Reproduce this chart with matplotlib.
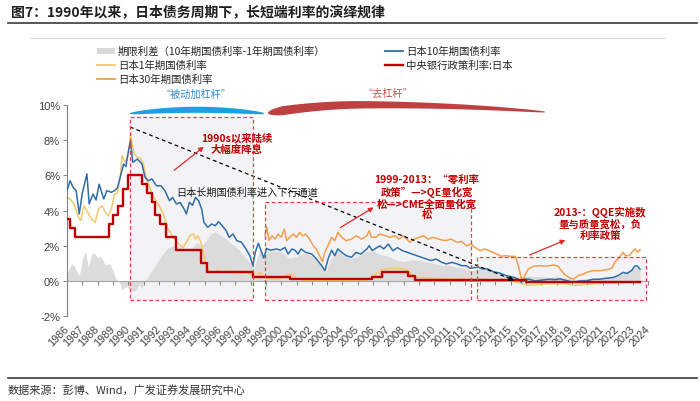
import numpy as np
import matplotlib
matplotlib.use("Agg")
import matplotlib.pyplot as plt
from matplotlib.patches import Rectangle, Polygon
from matplotlib.lines import Line2D

plt.rcParams['font.family'] = ['Noto Sans CJK SC', 'DejaVu Sans']

# ---------------- data ----------------
ten_years = [1986.0, 1986.2, 1986.4, 1986.6, 1986.8, 1987.0, 1987.3, 1987.45, 1987.7, 1987.9,
             1988.1, 1988.4, 1988.6, 1988.9, 1989.1, 1989.3, 1989.5, 1989.7, 1989.85, 1990.0,
             1990.15, 1990.3, 1990.6, 1990.9, 1991.1, 1991.3, 1991.55, 1991.85, 1992.15, 1992.4,
             1992.7, 1992.9, 1993.15, 1993.4, 1993.65, 1993.8, 1994.0, 1994.2, 1994.4, 1994.6,
             1994.8, 1994.95, 1995.2, 1995.45, 1995.7, 1995.9, 1996.15, 1996.4, 1996.6, 1996.85,
             1997.1, 1997.4, 1997.7, 1997.95, 1998.15, 1998.3, 1998.5, 1998.7, 1998.85, 1999.05,
             1999.3, 1999.7, 1999.95, 2000.25, 2000.45, 2000.7, 2000.9, 2001.1, 2001.3, 2001.6,
             2002.0, 2002.3, 2002.65, 2002.85, 2003.1, 2003.3, 2003.5, 2003.7, 2003.95, 2004.25,
             2004.6, 2004.9, 2005.2, 2005.6, 2005.75, 2005.95, 2006.45, 2006.7, 2007.0, 2007.3,
             2007.6, 2007.9, 2008.25, 2008.55, 2008.85, 2009.15, 2009.5, 2009.8, 2010.1, 2010.5,
             2010.8, 2011.15, 2011.5, 2011.8, 2012.1, 2012.35, 2012.6, 2012.9, 2013.1, 2013.5,
             2013.85, 2014.3, 2014.7, 2015.2, 2015.5, 2015.7, 2015.9, 2016.2, 2016.6, 2017.1,
             2017.5, 2017.9, 2018.2, 2018.5, 2019.1, 2019.5, 2019.9, 2020.4, 2020.8, 2021.2,
             2021.7, 2022.0, 2022.35, 2022.6, 2022.9, 2023.1, 2023.25, 2023.45]
ten_vals = [5.13, 5.70, 5.32, 5.13, 3.81, 5.00, 6.08, 4.38, 4.94, 4.60,
            5.50, 4.66, 5.13, 5.04, 5.13, 5.30, 5.98, 6.65, 6.50, 7.31,
            7.95, 6.74, 6.93, 6.65, 5.89, 5.70, 5.80, 5.41, 5.41, 5.13,
            4.56, 4.75, 4.38, 4.46, 4.09, 3.81, 4.47, 4.30, 4.75, 4.56,
            4.09, 3.33, 3.05, 3.24, 3.14, 3.37, 3.14, 2.86, 2.48, 2.67,
            2.29, 2.20, 1.82, 1.44, 0.87, 1.60, 2.15, 1.70, 1.30, 1.85,
            1.75, 1.82, 1.75, 1.91, 1.53, 1.82, 1.75, 1.53, 1.82, 1.63,
            1.53, 1.25, 0.87, 0.59, 1.35, 1.75, 1.44, 1.82, 1.63, 1.44,
            1.35, 1.63, 1.53, 1.82, 2.00, 1.73, 2.00, 1.82, 2.10, 1.72,
            1.90, 1.73, 1.63, 1.53, 1.44, 1.35, 1.25, 1.16, 1.25, 1.06,
            0.97, 1.06, 0.97, 0.87, 0.87, 0.72, 0.76, 0.78, 0.70, 0.68,
            0.53, 0.45, 0.30, 0.21, 0.11, -0.08, 0.10, 0.10, 0.00, 0.06,
            0.10, 0.08, 0.12, 0.06, -0.08, 0.00, 0.00, 0.10, 0.10, 0.15,
            0.20, 0.30, 0.49, 0.43, 0.59, 0.84, 0.87, 0.68]

one_years = [1986.0, 1986.2, 1986.45, 1986.75, 1986.9, 1987.1, 1987.35, 1987.6, 1987.85, 1988.05,
             1988.3, 1988.5, 1988.7, 1988.9, 1989.1, 1989.3, 1989.5, 1989.6, 1989.8, 1990.0,
             1990.15, 1990.4, 1990.6, 1990.8, 1991.0, 1991.15, 1991.4, 1991.6, 1991.95, 1992.3,
             1992.6, 1992.95, 1993.3, 1993.6, 1993.8, 1994.05, 1994.25, 1994.4, 1994.55, 1994.75,
             1994.9, 1995.1, 1995.35, 1995.6, 1995.9, 1996.2, 1996.5, 1996.8, 1997.1, 1997.5,
             1997.8, 1998.1, 1998.4, 1998.6, 1998.8, 1999.0, 1999.5, 2000.0, 2000.4, 2000.7,
             2001.0, 2001.5, 2002.5, 2003.5, 2004.5, 2005.5, 2005.9, 2006.2, 2006.6, 2007.2,
             2007.8, 2008.3, 2008.6, 2009.0, 2010.0, 2011.0, 2012.0, 2013.0, 2014.0, 2015.0,
             2015.7, 2016.2, 2016.8, 2017.5, 2018.5, 2019.2, 2019.8, 2020.5, 2021.5, 2022.5,
             2023.45]
one_vals = [4.75, 4.66, 4.38, 3.62, 3.43, 4.28, 3.90, 3.52, 3.33, 4.09,
            4.28, 3.90, 3.71, 4.09, 4.90, 5.00, 6.08, 7.12, 6.74, 7.20,
            8.30, 7.22, 7.03, 6.97, 6.65, 5.98, 5.32, 4.85, 4.38, 3.81,
            2.95, 2.48, 2.10, 1.91, 2.20, 2.57, 2.67, 2.38, 2.57, 2.20,
            1.63, 0.87, 0.49, 0.46, 0.59, 0.49, 0.59, 0.49, 0.46, 0.46,
            0.53, 0.30, 0.20, 0.50, 0.30, 0.15, 0.10, 0.15, 0.35, 0.40,
            0.15, 0.05, 0.03, 0.02, 0.05, 0.05, 0.20, 0.40, 0.65, 0.72,
            0.70, 0.60, 0.30, 0.20, 0.15, 0.12, 0.10, 0.08, 0.05, 0.00,
            -0.15, -0.25, -0.20, -0.15, -0.15, -0.25, -0.20, -0.15, -0.12, -0.08,
            -0.05]

thirty_years = [1998.95, 1999.05, 1999.2, 1999.4, 1999.6, 1999.8, 2000.0, 2000.2, 2000.35, 2000.55,
                2000.8, 2001.0, 2001.2, 2001.4, 2001.6, 2001.85, 2002.1, 2002.3, 2002.5, 2002.7,
                2002.85, 2003.1, 2003.3, 2003.5, 2003.7, 2003.95, 2004.25, 2004.6, 2004.9, 2005.25,
                2005.6, 2005.75, 2005.9, 2006.2, 2006.45, 2006.8, 2007.1, 2007.4, 2007.7, 2008.0,
                2008.4, 2008.7, 2009.0, 2009.3, 2009.6, 2009.9, 2010.3, 2010.7, 2011.1, 2011.5,
                2011.8, 2012.1, 2012.4, 2012.8, 2013.0, 2013.3, 2013.6, 2014.1, 2014.4, 2014.7,
                2015.0, 2015.3, 2015.5, 2015.7, 2015.85, 2016.15, 2016.5, 2016.9, 2017.3, 2017.8,
                2018.1, 2018.3, 2018.55, 2018.9, 2019.1, 2019.4, 2019.75, 2020.0, 2020.4, 2020.9,
                2021.3, 2021.6, 2021.8, 2022.0, 2022.35, 2022.5, 2022.75, 2023.0, 2023.15, 2023.3,
                2023.45]
thirty_vals = [2.60, 3.10, 2.30, 2.57, 2.38, 2.67, 2.48, 2.95, 2.29, 2.48,
               2.67, 2.48, 2.76, 2.57, 2.67, 2.38, 2.00, 1.82, 1.44, 1.10,
               1.63, 2.10, 2.48, 2.29, 2.76, 2.48, 2.29, 2.38, 2.57, 2.38,
               2.57, 2.86, 2.48, 2.50, 2.67, 2.57, 2.48, 2.57, 2.38, 2.57,
               2.20, 2.38, 2.48, 2.57, 2.38, 2.48, 2.38, 2.29, 2.38, 2.20,
               2.25, 2.00, 2.10, 1.82, 1.72, 1.82, 1.72, 1.53, 1.40, 1.44,
               1.40, 1.40, 0.87, 0.11, 0.20, 0.68, 0.84, 0.87, 0.84, 0.91,
               0.84, 0.60, 0.35, 0.15, 0.11, 0.30, 0.40, 0.50, 0.59, 0.59,
               0.65, 0.72, 1.06, 1.25, 1.63, 1.44, 1.44, 1.72, 1.82, 1.63,
               1.78]

policy_years = [1986.0, 1986.2, 1986.55, 1988.76, 1989.02, 1989.35, 1989.67, 1990.0, 1990.87, 1991.25,
                1991.53, 1991.75, 1992.07, 1992.5, 1993.12, 1994.74, 1995.13, 1998.14, 2000.58, 2005.91,
                2006.56, 2008.28, 2008.75, 2016.0, 2023.45]
policy_vals = [3.5, 3.0, 2.5, 3.25, 3.75, 4.25, 5.25, 6.0, 5.5, 5.0,
               4.5, 3.75, 3.25, 2.5, 1.75, 1.0, 0.5, 0.25, 0.1, 0.25,
               0.5, 0.3, 0.05, -0.08, -0.08]

spread_years = [1986.0, 1986.3, 1986.5, 1986.8, 1987.0, 1987.2, 1987.4, 1987.6, 1987.8, 1988.0,
                1988.2, 1988.5, 1988.8, 1989.0, 1989.2, 1989.4, 1989.6, 1989.9, 1990.1, 1990.4,
                1990.7, 1990.9, 1991.1, 1991.4, 1991.7, 1992.0, 1992.3, 1992.6, 1993.0, 1993.4,
                1993.8, 1994.1, 1994.5, 1994.8, 1995.1, 1995.4, 1995.7, 1996.0, 1996.4, 1996.8,
                1997.2, 1997.6, 1998.0, 1998.2, 1998.4, 1998.6, 1998.8, 1999.0, 1999.5, 2000.0,
                2000.5, 2001.0, 2001.5, 2002.0, 2002.5, 2002.85, 2003.2, 2003.7, 2004.2, 2004.6,
                2005.0, 2005.6, 2006.0, 2006.5, 2007.0, 2007.5, 2008.0, 2008.5, 2009.0, 2009.5,
                2010.0, 2010.5, 2011.0, 2011.5, 2012.0, 2012.5, 2013.0, 2013.5, 2014.0, 2014.5,
                2015.0, 2015.5, 2016.0, 2016.5, 2017.0, 2017.5, 2018.0, 2018.5, 2019.0, 2019.5,
                2020.0, 2020.5, 2021.0, 2021.5, 2022.0, 2022.5, 2023.0, 2023.45]
spread_vals = [0.4, 1.0, 0.8, 0.3, 1.2, 1.7, 0.8, 1.5, 1.6, 1.3,
               1.4, 0.9, 1.0, 0.6, 0.1, 0.0, -0.5, -0.3, -0.5, -0.6,
               -0.2, -0.4, 0.0, 0.4, 0.8, 1.2, 1.6, 1.9, 2.0, 2.0,
               1.7, 1.8, 2.2, 2.0, 2.3, 2.7, 2.8, 2.6, 2.4, 2.1,
               1.8, 1.4, 1.0, 0.6, 1.3, 1.8, 1.2, 1.7, 1.7, 1.7,
               1.3, 1.4, 1.6, 1.4, 1.0, 0.5, 1.2, 1.7, 1.4, 1.3,
               1.4, 1.7, 1.7, 1.5, 1.4, 1.2, 1.1, 1.2, 1.2, 1.1,
               1.0, 0.9, 0.9, 0.8, 0.7, 0.6, 0.7, 0.6, 0.45, 0.35,
               0.25, 0.2, 0.3, 0.25, 0.25, 0.2, 0.25, 0.2, 0.1, 0.1,
               0.15, 0.15, 0.2, 0.25, 0.3, 0.5, 0.8, 0.7]

tick_years = list(range(1986, 2025))
ytick_vals = [-2, 0, 2, 4, 6, 8, 10]

labels = ['期限利差（10年期国债利率-1年期国债利率）', '日本1年期国债利率', '日本30年期国债利率',
          '日本10年期国债利率', '中央银行政策利率:日本']

# ---------------- colours ----------------
C_TEN = '#2F6EA8'
C_ONE = '#F2C96A'
C_THIRTY = '#F19E4F'
C_POLICY = '#C00000'
C_SPREAD = '#D9D9D9'
C_BOX = '#E8404A'

W, H = 700, 402
fig = plt.figure(figsize=(W / 100, H / 100), dpi=100)

# axes placed to match the reference pixels
x0px, zero_px, px_year, px_pct = 67, 282, 15.3, 17.6
xmin, xmax, ymin, ymax = 1986.0, 2024.05, -2, 10
ax_left = x0px / W
ax_w = (xmax - xmin) * px_year / W
ax_bottom = (H - (zero_px + 2 * px_pct)) / H
ax_h = (ymax - ymin) * px_pct / H
ax = fig.add_axes([ax_left, ax_bottom, ax_w, ax_h])
ax.set_xlim(xmin, xmax)
ax.set_ylim(ymin, ymax)
ax.patch.set_alpha(0)


def dx(px):
    return xmin + (px - x0px) / px_year


def dy(py):
    return (zero_px - py) / px_pct


def fx(px):
    return px / W


def fy(py):
    return 1 - py / H


# shaded period boxes
boxes = [(130, 253, 118), (265, 471, 203), (477, 646, 258)]
for (l, r, t) in boxes:
    ax.add_patch(Rectangle((dx(l), dy(301)), dx(r) - dx(l), dy(t) - dy(301),
                           facecolor='#F3F3F5', edgecolor='none', zorder=0.5))
    ax.add_patch(Rectangle((dx(l), dy(301)), dx(r) - dx(l), dy(t) - dy(301),
                           facecolor='none', edgecolor=C_BOX, lw=0.9, ls=(0, (3, 2)),
                           zorder=6, clip_on=False))

# spread area
ax.fill_between(spread_years, 0, spread_vals, color=C_SPREAD, alpha=0.9, lw=0, zorder=1)

# lines
ax.plot(one_years, one_vals, color=C_ONE, lw=1.1, zorder=2)
ax.plot(thirty_years, thirty_vals, color=C_THIRTY, lw=1.1, zorder=2.2)
ax.plot(ten_years, ten_vals, color=C_TEN, lw=1.1, zorder=3)
ax.step(policy_years, policy_vals, where='post', color=C_POLICY, lw=1.7, zorder=3.5)

# spines & ticks
for s in ['top', 'right']:
    ax.spines[s].set_visible(False)
ax.spines['left'].set_color('#808080')
ax.spines['left'].set_linewidth(0.8)
ax.spines['bottom'].set_position(('data', 0))
ax.spines['bottom'].set_color('#A6A6A6')
ax.spines['bottom'].set_linewidth(0.8)
ax.set_xticks(tick_years)
ax.set_xticklabels([str(y) for y in tick_years], rotation=45, ha='right', va='center',
                   rotation_mode='anchor', fontsize=7.8, family='Liberation Sans', color='#404040')
ax.tick_params(axis='x', direction='out', length=3, width=0.7, color='#808080', pad=30)
ax.set_yticks(ytick_vals)
ax.set_yticklabels([f'{v}%' for v in ytick_vals], fontsize=8, family='Liberation Sans', color='#404040')
ax.tick_params(axis='y', direction='out', length=3, width=0.7, color='#808080', pad=2)

# black dashed trend line with arrow
ax.plot([dx(130), dx(512)], [dy(128), dy(280.5)], color='black', lw=0.9, ls=(0, (3, 2.5)), zorder=5)
ax.annotate('', xy=(dx(517), dy(282.5)), xytext=(dx(508), dy(278.9)),
            arrowprops=dict(arrowstyle='-|>', color='black', lw=0.9, mutation_scale=7), zorder=5)

# red arrows
for (tx, ty, hx, hy) in [(172, 173, 206, 146), (338, 230, 376, 207), (527, 257, 568, 240)]:
    ax.annotate('', xy=(dx(hx), dy(hy)), xytext=(dx(tx), dy(ty)), annotation_clip=False,
                arrowprops=dict(arrowstyle='-|>', color='#E02828', lw=0.9, mutation_scale=7), zorder=6)

# annotation texts
red_txt = '#C00000'
ax.text(dx(237), dy(144), '1990s以来陆续\n大幅度降息', color=red_txt, fontsize=7.5, fontweight='bold',
        ha='center', va='center', linespacing=1.15, zorder=7)
ax.text(dx(247), dy(193), '日本长期国债利率进入下行通道', color='#1A1A1A', fontsize=7.3,
        ha='center', va='center', zorder=7)
ax.text(dx(427), dy(198), '1999-2013：“零利率\n政策”—>QE量化宽\n松—>CME全面量化宽\n松', color=red_txt,
        fontsize=7.5, fontweight='bold', ha='center', va='center', linespacing=1.1, zorder=7)
ax.text(dx(600), dy(224), '2013-：QQE实施数\n量与质量宽松，负\n利率政策', color=red_txt,
        fontsize=7.5, fontweight='bold', ha='center', va='center', linespacing=1.2, zorder=7)


# brush-stroke arcs above the chart
def arc(xa, xb, ymid, yl, yr, tpk, thmax, taper_right, color):
    t = np.linspace(0, 1, 120)
    xs = xa + t * (xb - xa)
    yc = np.where(t < tpk, ymid + (yl - ymid) * ((tpk - t) / tpk) ** 2,
                  ymid + (yr - ymid) * ((t - tpk) / (1 - tpk)) ** 2)
    if taper_right:
        th = thmax * (1 - t) ** 0.6 * np.minimum(1, t / 0.05) ** 0.5 + 0.8
    else:
        th = thmax * np.sqrt(np.clip(np.sin(np.pi * t), 0, 1)) + 0.6
    upper = [(dx(a), dy(b - c / 2)) for a, b, c in zip(xs, yc, th)]
    lower = [(dx(a), dy(b + c / 2)) for a, b, c in zip(xs[::-1], yc[::-1], th[::-1])]
    ax.add_patch(Polygon(upper + lower, closed=True, facecolor=color, edgecolor='none',
                         clip_on=False, zorder=6))


arc(130, 264, 110.8, 114.5, 114.5, 0.5, 5.5, False, '#1E9FE3')
arc(268, 545, 105.8, 114.0, 113.0, 0.35, 8.5, True, '#BE4141')
ax.text(dx(196), dy(95), '“被动加杠杆”', color='#2E86D0', fontsize=7.3, ha='center', va='center')
ax.text(dx(388), dy(94), '“去杠杆”', color='#C0504D', fontsize=7.3, ha='center', va='center')

# title, rules, footer
fig.text(fx(11), fy(13), '图7：1990年以来，日本债务周期下，长短端利率的演绎规律', fontsize=10,
         fontweight='bold', color='#1F1F1F', ha='left', va='center')
fig.add_artist(Line2D([fx(8), fx(697)], [fy(23.5), fy(23.5)], color='#3A3A3A', lw=1.2))
fig.add_artist(Line2D([fx(30), fx(665)], [fy(39), fy(39)], color='#D9D9D9', lw=0.8))
fig.add_artist(Line2D([fx(8), fx(697)], [fy(379), fy(379)], color='#3A3A3A', lw=1.2))
fig.text(fx(8), fy(391), '数据来源：彭博、Wind，广发证券发展研究中心', fontsize=8, color='#333333',
         ha='left', va='center')

# legend (drawn at reference positions)
leg_items = [
    ('patch', C_SPREAD, 97, 51.7, labels[0]),
    ('line', C_ONE, 97, 66.0, labels[1]),
    ('line', C_THIRTY, 97, 80.0, labels[2]),
    ('line', C_TEN, 385, 51.7, labels[3]),
    ('line', C_POLICY, 385, 66.0, labels[4]),
]
for kind, col, lx, ly, lab in leg_items:
    if kind == 'patch':
        fig.add_artist(Rectangle((fx(lx), fy(ly + 3)), 18 / W, 6 / H, facecolor=col, edgecolor='none',
                                 transform=fig.transFigure))
    else:
        fig.add_artist(Line2D([fx(lx), fx(lx + 18)], [fy(ly), fy(ly)], color=col,
                              lw=1.7 if col == C_POLICY else 1.3))
    fig.text(fx(lx + 21), fy(ly), lab, fontsize=7.5, color='#262626', ha='left', va='center')

fig.savefig('out.png', dpi=100)
